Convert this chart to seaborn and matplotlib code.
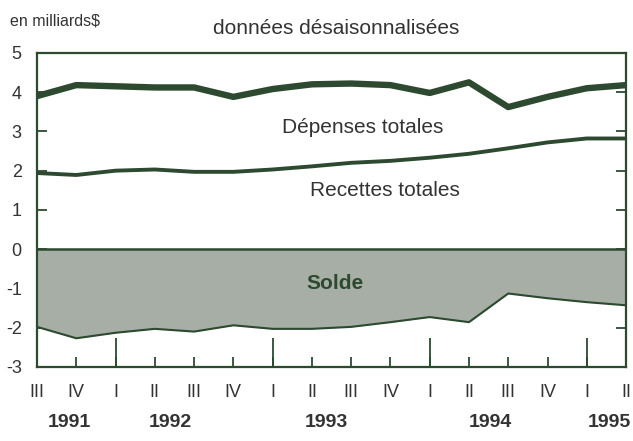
import numpy as np
import pandas as pd
import matplotlib
matplotlib.use("Agg")
import matplotlib.pyplot as plt
import seaborn as sns

# --- DATA (en milliards $, quarterly 1991 III - 1995 II) ---
quarters = ["III", "IV", "I", "II", "III", "IV", "I", "II",
            "III", "IV", "I", "II", "III", "IV", "I", "II"]
years = ["1991", "1992", "1993", "1994", "1995"]
depenses = [3.9, 4.18, 4.15, 4.12, 4.12, 3.88, 4.08, 4.2,
            4.22, 4.18, 3.98, 4.25, 3.62, 3.88, 4.1, 4.18]
recettes = [1.94, 1.89, 2.0, 2.03, 1.97, 1.97, 2.03, 2.11,
            2.2, 2.25, 2.33, 2.43, 2.57, 2.72, 2.82, 2.82]
solde = [-1.98, -2.27, -2.13, -2.03, -2.1, -1.94, -2.03, -2.03,
         -1.98, -1.86, -1.73, -1.86, -1.13, -1.25, -1.35, -1.43]
y_ticks = [5, 4, 3, 2, 1, 0, -1, -2, -3]

# --- layout constants ---
YEAR_X = [0.82, 3.39, 7.38, 11.54, 14.57]  # where the year labels sit
GREEN = "#2d4a30"
FILL = "#a7aea5"
TXT = "#333333"

sns.set_theme(style="ticks")
plt.rcParams["font.family"] = ["Liberation Sans", "DejaVu Sans"]
plt.rcParams.update({
    "xtick.direction": "in", "ytick.direction": "in",
    "xtick.major.size": 7, "ytick.major.size": 7,
    "xtick.major.width": 1.3, "ytick.major.width": 1.3,
    "xtick.minor.size": 21, "xtick.minor.width": 1.3,
    "xtick.color": GREEN, "ytick.color": GREEN,
    "xtick.labelcolor": TXT, "ytick.labelcolor": TXT,
    "ytick.right": True,
})

df = pd.DataFrame({"q": np.arange(len(quarters)),
                   "depenses": depenses,
                   "recettes": recettes,
                   "solde": solde})

fig = plt.figure(figsize=(6.33, 4.41), dpi=100)
ax = fig.add_axes([0.0585, 0.168, 0.9305, 0.712])

# shaded balance area
ax.fill_between(df["q"], 0, df["solde"], color=FILL, lw=0, zorder=1)
ax.axhline(0, color=GREEN, lw=1.8, zorder=3)

sns.lineplot(data=df, x="q", y="depenses", ax=ax, color=GREEN, lw=4.6,
             solid_capstyle="butt", zorder=4)
sns.lineplot(data=df, x="q", y="recettes", ax=ax, color=GREEN, lw=2.8,
             solid_capstyle="butt", zorder=4)
sns.lineplot(data=df, x="q", y="solde", ax=ax, color=GREEN, lw=1.5,
             solid_capstyle="butt", zorder=4)

ax.set_xlim(0, len(quarters) - 1)
ax.set_ylim(-3, 5)
ax.set_xlabel("")
ax.set_ylabel("")

for sp in ax.spines.values():
    sp.set_color(GREEN)
    sp.set_linewidth(1.6)

ax.set_yticks(y_ticks)
ax.set_yticklabels([str(v) for v in y_ticks])
ax.set_xticks(np.arange(len(quarters)))
ax.set_xticklabels(quarters)
# taller ticks marking the first quarter of each year
first_q = [i for i, q in enumerate(quarters) if q == "I"]
ax.xaxis.remove_overlapping_locs = False
ax.set_xticks(first_q, minor=True)

for x, yr in zip(YEAR_X, years):
    ax.text(x, -0.178, yr, transform=ax.get_xaxis_transform(), ha="center",
            va="center", fontsize=14, fontweight="bold", color=TXT)

ax.text(8.3, 3.1, "Dépenses totales", ha="center", va="center",
        fontsize=15, color=TXT)
ax.text(8.86, 1.5, "Recettes totales", ha="center", va="center",
        fontsize=15, color=TXT)
ax.text(7.6, -0.87, "Solde", ha="center", va="center", fontsize=15,
        fontweight="bold", color=GREEN)

fig.text(10 / 633, 1 - 21 / 441, "en milliards$", ha="left", va="center",
         fontsize=11.5, color=TXT)
fig.text(213 / 633, 1 - 28 / 441, "données désaisonnalisées", ha="left",
         va="center", fontsize=15, color=TXT)

ax.tick_params(axis="y", which="major", direction="in", length=7, width=1.3,
               color=GREEN, left=True, right=True, labelsize=13, pad=11)
ax.tick_params(axis="x", which="major", direction="in", length=7, width=1.3,
               color=GREEN, bottom=True, top=False, labelsize=13, pad=12)
ax.tick_params(axis="x", which="minor", direction="in", length=21,
               width=1.3, color=GREEN, bottom=True, top=False)

fig.savefig("out.png", dpi=100, facecolor="white")
